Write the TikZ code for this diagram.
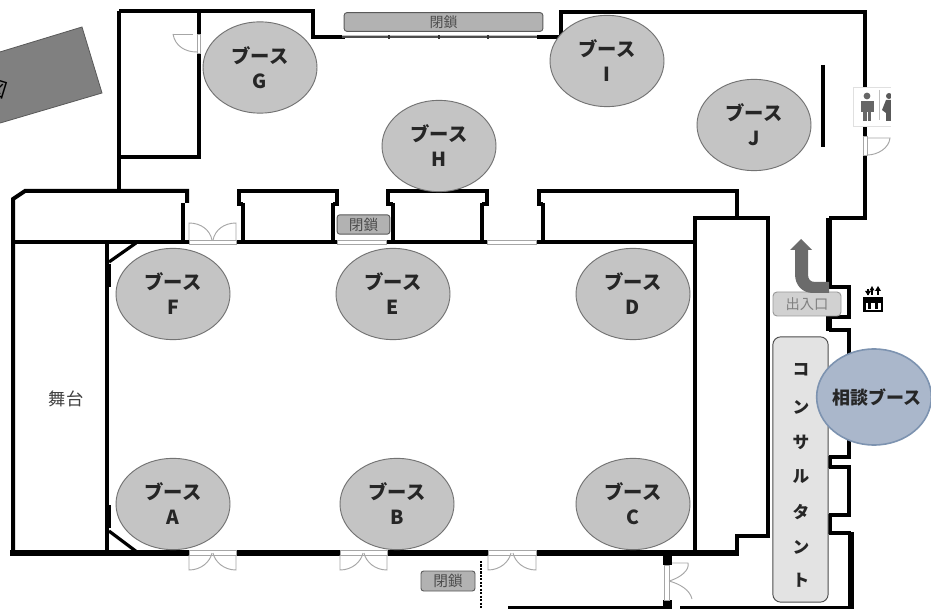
\documentclass[tikz,border=0pt]{standalone}
\usepackage{fontspec}
\usetikzlibrary{shapes.geometric}
\setmainfont{Noto Sans CJK JP}
\begin{document}
\begin{tikzpicture}[x=0.75pt,y=-0.75pt,
  wall/.style={draw=black,line width=3pt,line join=miter},
  wallthin/.style={draw=black,line width=2.4pt,line join=miter},
  wallthick/.style={draw=black,line width=4.2pt},
  doorline/.style={draw=black!35,line width=0.7pt},
  booth/.style={ellipse,draw=black!55,line width=0.7pt,fill=black!23,minimum width=85.5pt,minimum height=68.5pt,inner sep=0pt,align=center,font=\fontsize{14.5}{18.8}\selectfont\bfseries,text=black!85},
  closed/.style={rounded corners=2pt,draw=black!65,line width=0.7pt,fill=black!30,inner sep=0pt,text=black!70},
]
\useasboundingbox (0,0) rectangle (931,609);
\fill[white] (0,0) rectangle (931,609);

% rotated grey block
\fill[black!50] (82,27) -- (102,93) -- (-10,126) -- (-10,55) -- cycle;
\draw[black!65,line width=0.6pt] (-10,55) -- (82,27) -- (102,93) -- (-10,126);
\node[rotate=-17,font=\fontsize{15}{15}\selectfont,text=black] (blocklabel) at (-3,89) {図};

% outer walls, top
\draw[wall] (119,11) -- (313,11) -- (313,37) -- (345,37);
\draw[wall] (537,37) -- (561,37) -- (561,12) -- (865,12) -- (865,87);
\draw[wall] (865,126) -- (865,136);
\draw[wall] (865,155) -- (865,218) -- (829,218);
\draw[wallthick] (829,218) -- (829,288);
\draw[wall] (829,287) -- (849,287) -- (849,317) -- (829,317);
\draw[wallthick] (829,316) -- (829,331);
\draw[wall] (829,330) -- (849,330) -- (849,457) -- (829,457);
\draw[wallthick] (829,456) -- (829,468);
\draw[wall] (829,467) -- (849,467) -- (849,515) -- (829,515);
\draw[wallthick] (829,514) -- (829,534);
\draw[wall] (829,533) -- (851,533);
\draw[wallthick] (851,532) -- (851,609);
% back room
\draw[wall] (119,11) -- (119,191);
\draw[wall] (199,11) -- (199,34);
\draw[wall] (199,53) -- (199,157) -- (118,157);
% upper band
\draw[wall] (187,203) -- (187,191) -- (25,191) -- (13,199) -- (13,553);
\draw[wallthin] (183,203) -- (183,242);
\draw[wall] (243,204) -- (239,204) -- (239,191) -- (337,191) -- (337,204) -- (333,204);
\draw[wallthin] (243,203) -- (243,242);
\draw[wallthin] (333,203) -- (333,242);
\draw[wall] (393,204) -- (388,204) -- (388,191) -- (487,191) -- (487,204) -- (482,204);
\draw[wallthin] (393,203) -- (393,242);
\draw[wallthin] (482,203) -- (482,242);
\draw[wall] (543,204) -- (539,204) -- (539,191) -- (737,191) -- (737,218);
\draw[wallthin] (543,203) -- (543,242);
% hall top
\draw[wallthin] (12,242) -- (189,242);
\draw[wallthin] (236,242) -- (337,242);
\draw[wallthin] (386,242) -- (393,242) -- (487,242);
\draw[wallthin] (536,242) -- (695,242);
% right lobby wall
\draw[wall] (695,553) -- (695,218) -- (768,218) -- (768,536) -- (737,536) -- (737,553);
% hall bottom
\draw[draw=black,line width=4.2pt] (10,553) -- (189,553);
\draw[draw=black,line width=4.2pt] (236,553) -- (340,553);
\draw[draw=black,line width=4.2pt] (387,553) -- (488,553);
\draw[draw=black,line width=4.2pt] (536,553) -- (739,553);
% stage
\draw[wallthin] (107,242) -- (107,553);
\draw[line width=4.5pt] (108,264) -- (108,287);
\draw[line width=4.5pt] (108,505) -- (108,528);
\draw[wallthin] (109,262) -- (136,243);
\draw[wallthin] (109,531) -- (137,552);
% bottom right
\draw[line width=3pt] (508,608) -- (664,608);
\draw[line width=3pt] (680,608) -- (851,608);
\fill (663,553) rectangle (672,565);
\fill (663,600) rectangle (672,609);
\draw[line width=1.6pt,densely dotted] (481,561) -- (481,609);

% doors
\draw[doorline] (197,34) rectangle (200,53);
\draw[doorline] (173,34) -- (193,34);
\draw[doorline] (173,34) .. controls (175,46) and (185,52) .. (197,52);
% double door top
\draw[doorline] (189,240) rectangle (236,244);
\draw[doorline] (189,240) -- (189,223) .. controls (201,223) and (210,230) .. (212,240);
\draw[doorline] (236,240) -- (236,223) .. controls (224,223) and (215,230) .. (213,240);
% double doors bottom
\draw[doorline] (189,550) rectangle (236,555);
\draw[doorline] (189,555) -- (189,570) .. controls (201,570) and (210,562) .. (212,553);
\draw[doorline] (236,555) -- (236,570) .. controls (224,570) and (215,562) .. (213,553);
\draw[doorline] (340,550) rectangle (387,555);
\draw[doorline] (340,555) -- (340,570) .. controls (352,570) and (361,562) .. (363,553);
\draw[doorline] (387,555) -- (387,570) .. controls (375,570) and (366,562) .. (364,553);
\draw[doorline] (488,550) rectangle (536,555);
\draw[doorline] (488,555) -- (488,570) .. controls (500,570) and (509,562) .. (511,553);
\draw[doorline] (536,555) -- (536,570) .. controls (524,570) and (515,562) .. (513,553);
% gaps in hall top
\draw[doorline] (337,240) rectangle (386,244);
\draw[doorline] (487,240) rectangle (536,244);
% right door in the bottom corridor
\draw[doorline] (664,565) rectangle (669,600);
\draw[doorline] (672,563) -- (688,563) .. controls (690,570) and (680,578) .. (669,581);
\draw[doorline] (669,581) .. controls (680,584) and (690,590) .. (692,599);
% door at toilets
\draw[doorline] (863,136) rectangle (867,155);
\draw[doorline] (867,138) -- (890,138) .. controls (889,148) and (878,155) .. (867,155);

% top shutters
\draw[draw=black!70,line width=1.2pt] (342,37) -- (537,37);
\draw[draw=black!25,line width=0.6pt] (342,35) -- (537,35);
\foreach \tx in {389,439,488} \fill[black!80] (\tx-1,35) rectangle (\tx+1,39);

% free partition
\draw[line width=3pt] (823,65) -- (823,147);

% toilet sign
\fill[white] (853,87) rectangle (891,126);
\draw[black!12,line width=0.6pt] (891,87) -- (853,87) -- (853,126) -- (891,126);
\fill[black!60] (867,96) circle[radius=3.4];
\fill[black!60] (860.5,101) rectangle (874,112);
\fill[black!60] (863,112) rectangle (866.5,121);
\fill[black!60] (867.5,112) rectangle (871,121);
\draw[black!25,line width=0.5pt] (879,90) -- (879,120);
\fill[black!65] (891,100) -- (886,100) -- (882,110) -- (886,113) -- (886,121) -- (891,121) -- cycle;
\fill[black!65] (889,96) circle[radius=3];
\fill[white] (891.2,87) rectangle (896,126);

% elevator sign
\draw[line width=1.6pt] (868,295) -- (868,289);
\fill (868,295.5) -- (865,291) -- (871,291) -- cycle;
\fill (872,286) -- (869.5,290.5) -- (874.5,290.5) -- cycle;
\draw[line width=1.6pt] (872,295) -- (872,289);
\draw[line width=1.6pt] (878,295) -- (878,289);
\fill (878,286) -- (875,291) -- (881,291) -- cycle;
\fill (863,297) rectangle (883,312);
\fill[white] (865.5,303) rectangle (880.5,310);
\fill (868,303) rectangle (871,309);
\fill (874.5,303) rectangle (877.5,309);

% booths
\node[booth] (g) at (260,67.5) {ブース\\G};
\node[booth] (h) at (439,146) {ブース\\H};
\node[booth] (i) at (607,61) {ブース\\I};
\node[booth] (j) at (754,125) {ブース\\J};
\node[booth] (f) at (173,294) {ブース\\F};
\node[booth] (e) at (393,294) {ブース\\E};
\node[booth] (d) at (633,294) {ブース\\D};
\node[booth] (a) at (173,504) {ブース\\A};
\node[booth] (b) at (397,504) {ブース\\B};
\node[booth] (c) at (633,504) {ブース\\C};

% closed labels
\node[closed,minimum width=149pt,minimum height=14pt,font=\fontsize{10.5}{11}\selectfont] (c1) at (443.5,22) {閉鎖};
\node[closed,minimum width=39.5pt,minimum height=14.5pt,font=\fontsize{11}{11}\selectfont] (c2) at (363.5,224.5) {閉鎖};
\node[closed,minimum width=40.5pt,minimum height=15pt,font=\fontsize{11}{11}\selectfont] (c3) at (448,581) {閉鎖};

\node[font=\fontsize{13}{13}\selectfont,text=black!75] (stage) at (66,399) {舞台};

% consultant bar
\node[rounded corners=6pt,draw=black!70,line width=0.7pt,fill=black!11,minimum width=41.5pt,minimum height=199pt,inner sep=0pt] (bar) at (800.5,469.5) {};
\foreach \ch/\cy in {コ/370,ン/407,サ/442,ル/477,タ/512,ン/547,ト/580}
  \node[font=\fontsize{12.5}{12.5}\selectfont\bfseries,text=black!85] at (801,\cy) {\ch};

% consult booth
\node[ellipse,draw={rgb,255:red,125;green,147;blue,176},line width=1.2pt,fill={rgb,255:red,170;green,183;blue,203},minimum width=86pt,minimum height=72pt,inner sep=0pt] (soudan) at (874,397) {};
\node[font=\fontsize{13.5}{13.5}\selectfont\bfseries,text=black!85] (soudantext) at (877,397) {相談ブース};

% entrance
\node[rounded corners=3pt,draw=black!40,line width=0.7pt,fill=black!18,minimum width=51pt,minimum height=18pt,inner sep=0pt,font=\fontsize{10.7}{11}\selectfont,text=black!50] (entry) at (807,304) {出入口};
\fill[black!58] (829,282) -- (815,282) .. controls (810,282) and (808,279) .. (808,274) -- (808,250) -- (812,250) -- (801,239) -- (790,250) -- (795,250) -- (795,274) .. controls (795,285) and (802,293) .. (813,293) -- (829,293) -- cycle;
\end{tikzpicture}
\end{document}
